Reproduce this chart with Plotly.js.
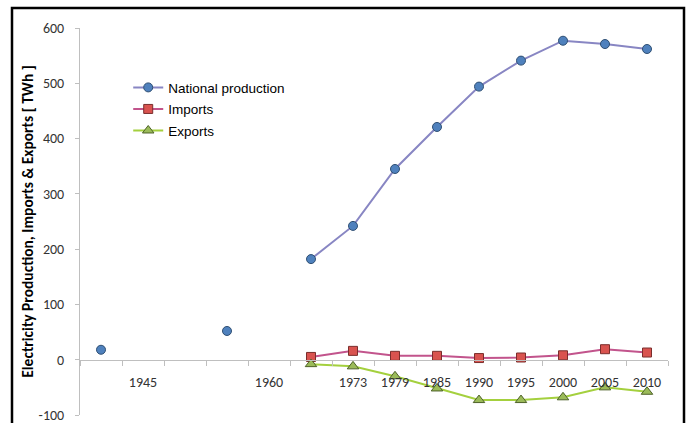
<!DOCTYPE html>
<html>
<head>
<meta charset="utf-8">
<script src="https://cdn.plot.ly/plotly-3.0.1.min.js"></script>
<style>
html,body{margin:0;padding:0;background:#fff;overflow:hidden;}
#chart{width:689px;height:423px;}
</style>
</head>
<body>
<div id="chart"></div>
<script>
// Categories (years) on the category axis; only some are labelled
var categories = ["1940","1945","1950","1955","1960","1967","1973","1979","1985","1990","1995","2000","2005","2010"];
var tickLabels = ["","1945","","","1960","","1973","1979","1985","1990","1995","2000","2005","2010"];

// Series values in TWh (null = no data)
var nationalProduction = [18, null, null, 52, null, 182, 242, 345, 421, 494, 541, 577, 571, 562];
var imports            = [null, null, null, null, null, 5, 16, 7, 7, 3, 4, 8, 19, 13];
var exports            = [null, null, null, null, null, -8, -12, -30, -52, -73, -73, -68, -50, -58];

var yTicks = [-100, 0, 100, 200, 300, 400, 500, 600];

var tickFont = {family: "Carlito, Lato, 'Liberation Sans', sans-serif", size: 14, color: "#333333"};

var traces = [
  {
    x: categories, y: nationalProduction, name: "National production", legendgroup: "a",
    type: "scatter", mode: "lines+markers", connectgaps: false,
    line: {color: "#8886C3", width: 2},
    marker: {symbol: "circle", size: 9, color: "#4F81BD", line: {color: "#2F4F73", width: 1}}
  },
  {
    x: categories, y: imports, name: "Imports", legendgroup: "b",
    type: "scatter", mode: "lines+markers",
    line: {color: "#C2548C", width: 2},
    marker: {symbol: "square", size: 9, color: "#D9534F", line: {color: "#7A2E2C", width: 1}}
  },
  {
    x: categories, y: exports, name: "Exports", legendgroup: "c",
    type: "scatter", mode: "lines+markers",
    line: {color: "#A4D03E", width: 2},
    marker: {symbol: "triangle-up", size: 10, color: "#9BBB59", line: {color: "#4E6228", width: 1}}
  }
];

var layout = {
  width: 689, height: 423,
  margin: {l: 80, r: 21, t: 28, b: 8},
  paper_bgcolor: "#ffffff", plot_bgcolor: "#ffffff",
  showlegend: true,
  legend: {
    x: 0.082, y: 0.886, xanchor: "left", yanchor: "top",
    bgcolor: "rgba(0,0,0,0)", borderwidth: 0,
    font: {family: "'Liberation Sans', Arial, sans-serif", size: 13.5, color: "#000000"},
    itemwidth: 30, tracegroupgap: 1
  },
  xaxis: {
    type: "category",
    categoryorder: "array", categoryarray: categories,
    range: [-0.5, categories.length - 0.5],
    tickmode: "array", tickvals: categories, ticktext: tickLabels,
    tickson: "boundaries",
    ticks: "outside", ticklen: 5, tickcolor: "#BFBFBF", tickwidth: 1,
    showline: true, linecolor: "#BFBFBF", linewidth: 1,
    showgrid: false, zeroline: false,
    anchor: "free", position: 100 / 700,
    ticklabelstandoff: 9,
    tickfont: tickFont,
    fixedrange: true
  },
  yaxis: {
    range: [-100, 600],
    tickmode: "array", tickvals: yTicks, ticktext: yTicks.map(String),
    ticks: "outside", ticklen: 4, tickcolor: "#BFBFBF",
    showline: true, linecolor: "#BFBFBF", linewidth: 1,
    showgrid: false, zeroline: false,
    ticklabelstandoff: 8,
    ticklabeloverflow: "allow",
    tickfont: tickFont,
    title: {
      text: "Electricity Production, Imports &amp; Exports [ TWh ]",
      font: {family: "Carlito, Lato, 'Liberation Sans', sans-serif", size: 15.5, color: "#000000", weight: "bold"},
      standoff: 1
    },
    fixedrange: true
  },
  shapes: [
    {type: "rect", xref: "paper", yref: "paper",
     x0: (12 - 80) / 588, x1: (684 - 80) / 588,
     y0: -0.2, y1: (415 - 8) / 387,
     line: {color: "#000000", width: 2.5}, fillcolor: "rgba(0,0,0,0)", layer: "above"}
  ]
};

Plotly.newPlot("chart", traces, layout, {staticPlot: true, displayModeBar: false});
</script>
</body>
</html>
